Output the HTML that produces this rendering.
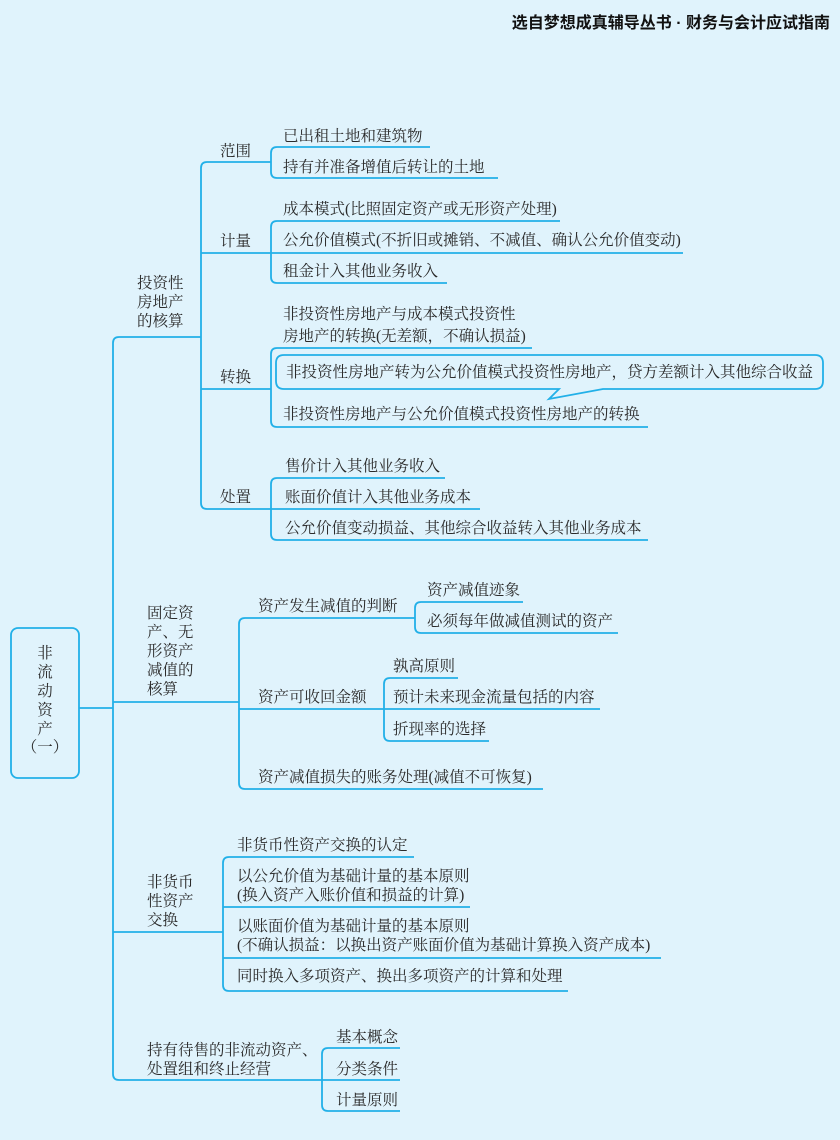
<!DOCTYPE html>
<html><head><meta charset="utf-8"><style>
html,body{margin:0;padding:0;background:#e0f3fc;}
svg{display:block}
text{font-family:"Liberation Serif","Noto Serif CJK SC","Noto Sans CJK SC",serif;font-size:15.5px;fill:#2b2b2b;}
.h{font-family:"Liberation Sans","Noto Sans CJK SC",sans-serif;font-weight:bold;font-size:16px;fill:#111;}
path,line,rect{fill:none;stroke:#22b0e8;stroke-width:1.8;}
</style></head><body>
<svg width="840" height="1140" viewBox="0 0 840 1140" xmlns="http://www.w3.org/2000/svg">
<rect x="0" y="0" width="840" height="1140" style="fill:#e0f3fc;stroke:none"/>
<text class="h" x="830" y="28" text-anchor="end">选自梦想成真辅导丛书 · 财务与会计应试指南</text>

<!-- root -->
<rect x="11" y="628" width="68" height="150" rx="7"/>
<text x="45" y="658" text-anchor="middle">非</text>
<text x="45" y="677" text-anchor="middle">流</text>
<text x="45" y="696" text-anchor="middle">动</text>
<text x="45" y="715" text-anchor="middle">资</text>
<text x="45" y="734" text-anchor="middle">产</text>
<text x="45" y="752" text-anchor="middle">（一）</text>
<line x1="79" y1="708" x2="113" y2="708"/>

<!-- trunk -->
<path d="M201 337 H119 Q113 337 113 343 V1074 Q113 1080 119 1080 H322"/>
<line x1="113" y1="702" x2="239" y2="702"/>
<line x1="113" y1="932" x2="223" y2="932"/>

<!-- 投资性房地产 -->
<text x="137" y="288">投资性</text>
<text x="137" y="307">房地产</text>
<text x="137" y="326">的核算</text>
<path d="M271 162 H207 Q201 162 201 168 V503 Q201 509 207 509 H271"/>
<line x1="201" y1="253" x2="271" y2="253"/>
<line x1="201" y1="389" x2="271" y2="389"/>
<text x="220" y="156">范围</text>
<text x="220" y="246">计量</text>
<text x="220" y="382">转换</text>
<text x="220" y="502">处置</text>

<!-- 范围 -->
<path d="M430 147 H277 Q271 147 271 153 V172 Q271 178 277 178 H498"/>
<text x="283" y="141">已出租土地和建筑物</text>
<text x="283" y="172">持有并准备增值后转让的土地</text>

<!-- 计量 -->
<path d="M560 221 H277 Q271 221 271 227 V277 Q271 283 277 283 H447"/>
<line x1="271" y1="253" x2="683" y2="253"/>
<text x="283" y="214">成本模式(比照固定资产或无形资产处理)</text>
<text x="283" y="245">公允价值模式(不折旧或摊销、不减值、确认公允价值变动)</text>
<text x="283" y="276">租金计入其他业务收入</text>

<!-- 转换 -->
<path d="M532 348 H277 Q271 348 271 354 V421 Q271 427 277 427 H648"/>
<text x="283" y="319">非投资性房地产与成本模式投资性</text>
<text x="283" y="341">房地产的转换(无差额，不确认损益)</text>
<path d="M284 355 H815 Q823 355 823 363 V381 Q823 389 815 389 H603 L549 399 L559 389 H284 Q276 389 276 381 V363 Q276 355 284 355 Z"/>
<text x="286" y="377">非投资性房地产转为公允价值模式投资性房地产，贷方差额计入其他综合收益</text>
<text x="283" y="419">非投资性房地产与公允价值模式投资性房地产的转换</text>

<!-- 处置 -->
<path d="M445 478 H277 Q271 478 271 484 V534 Q271 540 277 540 H648"/>
<line x1="271" y1="509" x2="480" y2="509"/>
<text x="285" y="471">售价计入其他业务收入</text>
<text x="285" y="502">账面价值计入其他业务成本</text>
<text x="285" y="533">公允价值变动损益、其他综合收益转入其他业务成本</text>

<!-- 固定资产 -->
<text x="147" y="618">固定资</text>
<text x="147" y="637">产、无</text>
<text x="147" y="656">形资产</text>
<text x="147" y="675">减值的</text>
<text x="147" y="694">核算</text>
<path d="M415 618 H245 Q239 618 239 624 V783 Q239 789 245 789 H543"/>
<line x1="239" y1="709" x2="384" y2="709"/>
<text x="258" y="611">资产发生减值的判断</text>
<text x="258" y="702">资产可收回金额</text>
<text x="258" y="782">资产减值损失的账务处理(减值不可恢复)</text>
<path d="M523 602 H421 Q415 602 415 608 V627 Q415 633 421 633 H618"/>
<text x="427" y="595">资产减值迹象</text>
<text x="427" y="626">必须每年做减值测试的资产</text>
<path d="M458 678 H390 Q384 678 384 684 V735 Q384 741 390 741 H489"/>
<line x1="384" y1="709" x2="600" y2="709"/>
<text x="393" y="671">孰高原则</text>
<text x="393" y="702">预计未来现金流量包括的内容</text>
<text x="393" y="734">折现率的选择</text>

<!-- 非货币 -->
<text x="147" y="887">非货币</text>
<text x="147" y="906">性资产</text>
<text x="147" y="925">交换</text>
<path d="M414 857 H229 Q223 857 223 863 V985 Q223 991 229 991 H568"/>
<line x1="223" y1="907" x2="470" y2="907"/>
<line x1="223" y1="958" x2="661" y2="958"/>
<text x="237" y="850">非货币性资产交换的认定</text>
<text x="237" y="881">以公允价值为基础计量的基本原则</text>
<text x="237" y="900">(换入资产入账价值和损益的计算)</text>
<text x="237" y="931">以账面价值为基础计量的基本原则</text>
<text x="237" y="950">(不确认损益：以换出资产账面价值为基础计算换入资产成本)</text>
<text x="237" y="981">同时换入多项资产、换出多项资产的计算和处理</text>

<!-- 持有待售 -->
<text x="147" y="1055">持有待售的非流动资产、</text>
<text x="147" y="1074">处置组和终止经营</text>
<path d="M400 1048 H328 Q322 1048 322 1054 V1105 Q322 1111 328 1111 H400"/>
<line x1="322" y1="1080" x2="400" y2="1080"/>
<text x="336" y="1042">基本概念</text>
<text x="336" y="1074">分类条件</text>
<text x="336" y="1105">计量原则</text>
</svg>
</body></html>
